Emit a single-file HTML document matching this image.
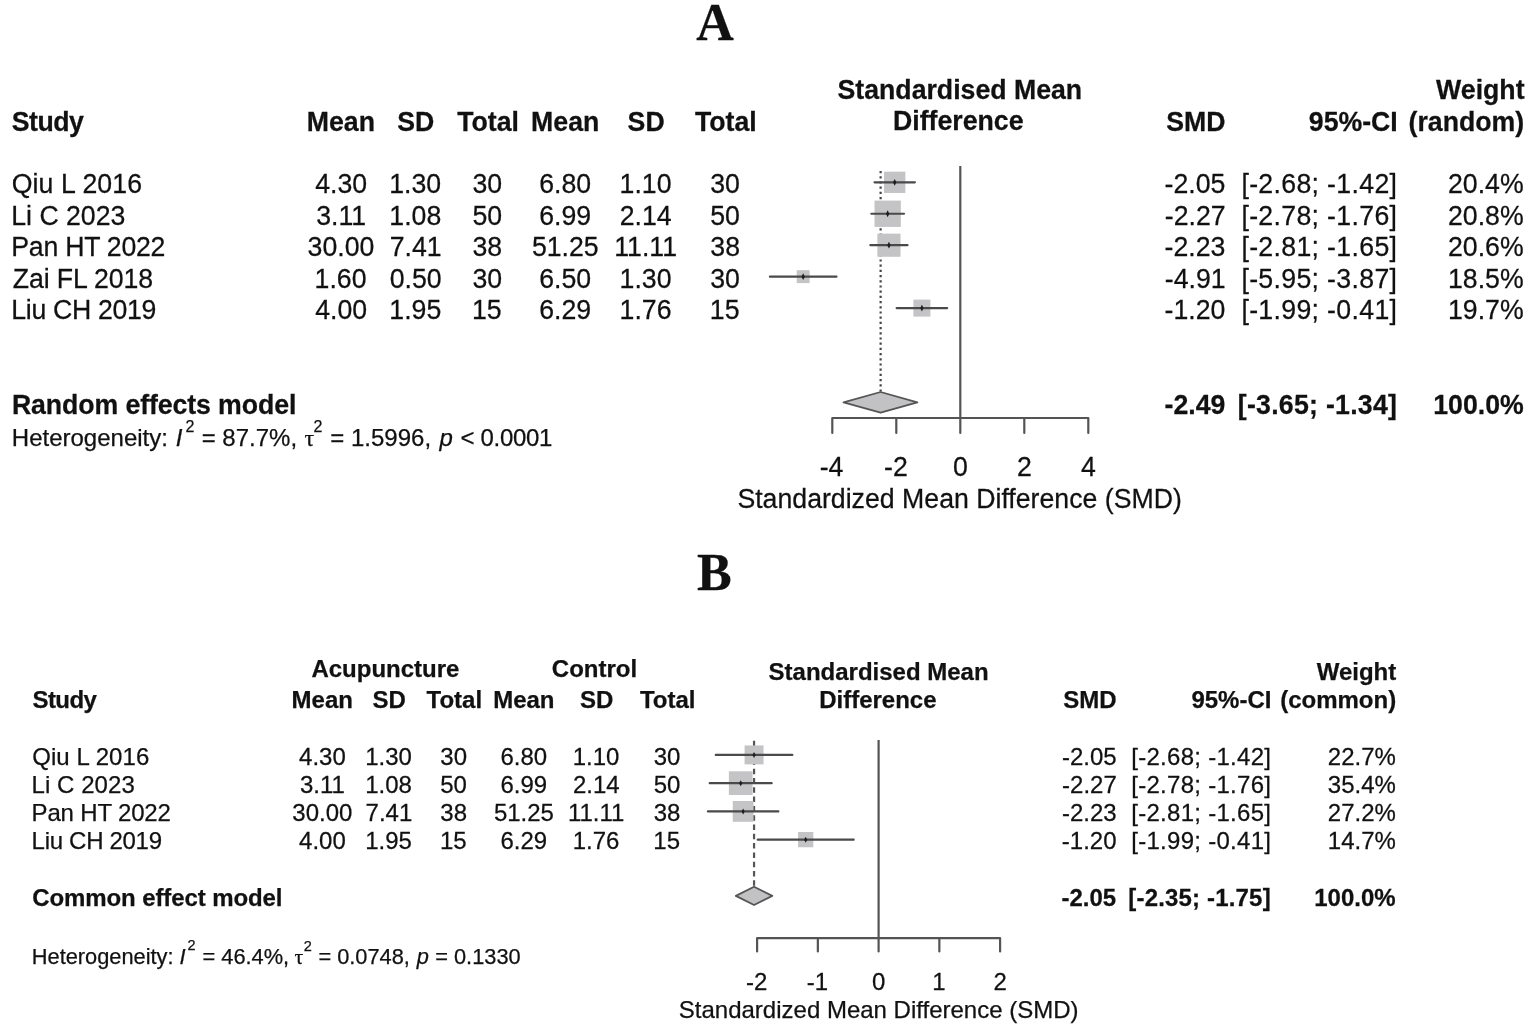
<!DOCTYPE html>
<html lang="en"><head><meta charset="utf-8"><title>Forest plots: acupuncture vs control (standardised mean difference)</title>
<style>
html,body{margin:0;padding:0;background:#fff;}
body{width:1535px;height:1034px;overflow:hidden;}
svg{display:block;}
svg{font-family:'Liberation Sans', Arial, Helvetica, sans-serif;}
text{fill:#111;stroke:#111;stroke-width:0.25px;}
</style></head><body>
<svg width="1535" height="1034" viewBox="0 0 1535 1034">
<rect width="1535" height="1034" fill="#fff"/>
<g id="plots">
<line x1="960.30" y1="166" x2="960.30" y2="418" stroke="#545454" stroke-width="2.2"/>
<line x1="880.62" y1="171" x2="880.62" y2="392" stroke="#444" stroke-width="2.2" stroke-dasharray="2.2 3"/>
<rect x="884.04" y="171.64" width="21.31" height="21.31" fill="#c4c4c6"/>
<line x1="874.54" y1="182.30" x2="914.86" y2="182.30" stroke="#4a4a4a" stroke-width="2.2" stroke-linecap="round"/>
<polygon points="894.70,178.90 896.40,182.30 894.70,185.70 893.00,182.30" fill="#1e1e1e"/>
<rect x="874.50" y="200.59" width="26.33" height="26.33" fill="#c4c4c6"/>
<line x1="871.34" y1="213.75" x2="903.98" y2="213.75" stroke="#4a4a4a" stroke-width="2.2" stroke-linecap="round"/>
<polygon points="887.66,210.35 889.36,213.75 887.66,217.15 885.96,213.75" fill="#1e1e1e"/>
<rect x="877.37" y="233.63" width="23.15" height="23.15" fill="#c4c4c6"/>
<line x1="870.38" y1="245.20" x2="907.50" y2="245.20" stroke="#4a4a4a" stroke-width="2.2" stroke-linecap="round"/>
<polygon points="888.94,241.80 890.64,245.20 888.94,248.60 887.24,245.20" fill="#1e1e1e"/>
<rect x="796.73" y="270.20" width="12.91" height="12.91" fill="#c4c4c6"/>
<line x1="769.90" y1="276.65" x2="836.46" y2="276.65" stroke="#4a4a4a" stroke-width="2.2" stroke-linecap="round"/>
<polygon points="803.18,273.25 804.88,276.65 803.18,280.05 801.48,276.65" fill="#1e1e1e"/>
<rect x="913.41" y="299.61" width="16.99" height="16.99" fill="#c4c4c6"/>
<line x1="896.62" y1="308.10" x2="947.18" y2="308.10" stroke="#4a4a4a" stroke-width="2.2" stroke-linecap="round"/>
<polygon points="921.90,304.70 923.60,308.10 921.90,311.50 920.20,308.10" fill="#1e1e1e"/>
<polygon points="843.50,402.3 880.62,392.0 917.42,402.3 880.62,412.6" fill="#c2c2c4" stroke="#555" stroke-width="1.8" stroke-linejoin="round"/>
<path d="M832.30 433 V418 H1088.30 V433 M896.30 418 V433 M960.30 418 V433 M1024.30 418 V433" fill="none" stroke="#545454" stroke-width="2.2" stroke-linecap="round" stroke-linejoin="round"/>
<line x1="878.60" y1="740" x2="878.60" y2="938.2" stroke="#545454" stroke-width="2.2"/>
<line x1="754.06" y1="740.8" x2="754.06" y2="887" stroke="#555" stroke-width="2.2" stroke-dasharray="5.5 3.8" stroke-dashoffset="0"/>
<rect x="744.58" y="745.42" width="18.96" height="18.96" fill="#c4c4c6"/>
<line x1="715.79" y1="754.90" x2="792.34" y2="754.90" stroke="#4a4a4a" stroke-width="2.2" stroke-linecap="round"/>
<polygon points="754.06,751.90 755.66,754.90 754.06,757.90 752.46,754.90" fill="#1e1e1e"/>
<rect x="728.86" y="771.31" width="23.68" height="23.68" fill="#c4c4c6"/>
<line x1="709.72" y1="783.15" x2="771.68" y2="783.15" stroke="#4a4a4a" stroke-width="2.2" stroke-linecap="round"/>
<polygon points="740.70,780.15 742.30,783.15 740.70,786.15 739.10,783.15" fill="#1e1e1e"/>
<rect x="732.75" y="801.02" width="20.76" height="20.76" fill="#c4c4c6"/>
<line x1="707.89" y1="811.40" x2="778.36" y2="811.40" stroke="#4a4a4a" stroke-width="2.2" stroke-linecap="round"/>
<polygon points="743.13,808.40 744.73,811.40 743.13,814.40 741.53,811.40" fill="#1e1e1e"/>
<rect x="798.07" y="832.02" width="15.26" height="15.26" fill="#c4c4c6"/>
<line x1="757.71" y1="839.65" x2="853.69" y2="839.65" stroke="#4a4a4a" stroke-width="2.2" stroke-linecap="round"/>
<polygon points="805.70,836.65 807.30,839.65 805.70,842.65 804.10,839.65" fill="#1e1e1e"/>
<polygon points="735.84,895.9 754.06,886.8 772.29,895.9 754.06,905.0" fill="#c2c2c4" stroke="#555" stroke-width="1.8" stroke-linejoin="round"/>
<path d="M757.10 951.5 V938.2 H1000.10 V951.5 M817.85 938.2 V951.5 M878.60 938.2 V951.5 M939.35 938.2 V951.5" fill="none" stroke="#545454" stroke-width="2.2" stroke-linecap="round" stroke-linejoin="round"/>
</g>
<g id="labels">
<text x="696.30" y="0" transform="translate(0 40.40) scale(1 1.02)" font-size="52" font-weight="bold" font-family="'Liberation Serif', 'Times New Roman', Times, serif">A</text>
<text x="837.50" y="0" transform="translate(0 98.80) scale(1 1.035)" font-size="26.7" font-weight="bold">Standardised Mean</text>
<text x="893.00" y="0" transform="translate(0 130.00) scale(1 1.035)" font-size="26.7" font-weight="bold">Difference</text>
<text x="1436.10" y="0" transform="translate(0 99.00) scale(1 1.035)" font-size="26.7" font-weight="bold">Weight</text>
<text x="11.70" y="0" transform="translate(0 130.80) scale(1 1.035)" font-size="26.7" font-weight="bold" textLength="72.27" lengthAdjust="spacing">Study</text>
<text x="306.80" y="0" transform="translate(0 130.80) scale(1 1.035)" font-size="26.7" font-weight="bold">Mean</text>
<text x="397.30" y="0" transform="translate(0 130.80) scale(1 1.035)" font-size="26.7" font-weight="bold">SD</text>
<text x="457.20" y="0" transform="translate(0 130.80) scale(1 1.035)" font-size="26.7" font-weight="bold">Total</text>
<text x="531.10" y="0" transform="translate(0 130.80) scale(1 1.035)" font-size="26.7" font-weight="bold">Mean</text>
<text x="627.60" y="0" transform="translate(0 130.80) scale(1 1.035)" font-size="26.7" font-weight="bold">SD</text>
<text x="695.00" y="0" transform="translate(0 130.80) scale(1 1.035)" font-size="26.7" font-weight="bold">Total</text>
<text x="1166.20" y="0" transform="translate(0 130.80) scale(1 1.035)" font-size="26.7" font-weight="bold">SMD</text>
<text x="1308.80" y="0" transform="translate(0 130.80) scale(1 1.035)" font-size="26.7" font-weight="bold">95%-CI</text>
<text x="1408.60" y="0" transform="translate(0 130.80) scale(1 1.035)" font-size="26.7" font-weight="bold">(random)</text>
<text x="11.70" y="0" transform="translate(0 193.20) scale(1 1.035)" font-size="26.7" textLength="130.35" lengthAdjust="spacing">Qiu L 2016</text>
<text x="315.25" y="0" transform="translate(0 193.20) scale(1 1.065)" font-size="26.7">4.30</text>
<text x="389.25" y="0" transform="translate(0 193.20) scale(1 1.065)" font-size="26.7">1.30</text>
<text x="472.45" y="0" transform="translate(0 193.20) scale(1 1.065)" font-size="26.7">30</text>
<text x="539.15" y="0" transform="translate(0 193.20) scale(1 1.065)" font-size="26.7">6.80</text>
<text x="619.55" y="0" transform="translate(0 193.20) scale(1 1.065)" font-size="26.7">1.10</text>
<text x="710.25" y="0" transform="translate(0 193.20) scale(1 1.065)" font-size="26.7">30</text>
<text x="1164.60" y="0" transform="translate(0 193.20) scale(1 1.065)" font-size="26.7">-2.05</text>
<text x="1241.40" y="0" transform="translate(0 193.20) scale(1 1.065)" font-size="26.7" textLength="155.59" lengthAdjust="spacing">[-2.68; -1.42]</text>
<text x="1448.00" y="0" transform="translate(0 193.20) scale(1 1.065)" font-size="26.7">20.4%</text>
<text x="11.30" y="0" transform="translate(0 224.65) scale(1 1.035)" font-size="26.7" textLength="114.00" lengthAdjust="spacing">Li C 2023</text>
<text x="316.20" y="0" transform="translate(0 224.65) scale(1 1.065)" font-size="26.7">3.11</text>
<text x="389.30" y="0" transform="translate(0 224.65) scale(1 1.065)" font-size="26.7">1.08</text>
<text x="472.40" y="0" transform="translate(0 224.65) scale(1 1.065)" font-size="26.7">50</text>
<text x="539.25" y="0" transform="translate(0 224.65) scale(1 1.065)" font-size="26.7">6.99</text>
<text x="619.75" y="0" transform="translate(0 224.65) scale(1 1.065)" font-size="26.7">2.14</text>
<text x="710.20" y="0" transform="translate(0 224.65) scale(1 1.065)" font-size="26.7">50</text>
<text x="1164.80" y="0" transform="translate(0 224.65) scale(1 1.065)" font-size="26.7">-2.27</text>
<text x="1241.40" y="0" transform="translate(0 224.65) scale(1 1.065)" font-size="26.7" textLength="155.59" lengthAdjust="spacing">[-2.78; -1.76]</text>
<text x="1448.00" y="0" transform="translate(0 224.65) scale(1 1.065)" font-size="26.7">20.8%</text>
<text x="11.30" y="0" transform="translate(0 256.10) scale(1 1.035)" font-size="26.7" textLength="154.15" lengthAdjust="spacing">Pan HT 2022</text>
<text x="307.60" y="0" transform="translate(0 256.10) scale(1 1.065)" font-size="26.7">30.00</text>
<text x="389.70" y="0" transform="translate(0 256.10) scale(1 1.065)" font-size="26.7">7.41</text>
<text x="472.50" y="0" transform="translate(0 256.10) scale(1 1.065)" font-size="26.7">38</text>
<text x="531.90" y="0" transform="translate(0 256.10) scale(1 1.065)" font-size="26.7">51.25</text>
<text x="614.25" y="0" transform="translate(0 256.10) scale(1 1.065)" font-size="26.7">11.11</text>
<text x="710.30" y="0" transform="translate(0 256.10) scale(1 1.065)" font-size="26.7">38</text>
<text x="1164.60" y="0" transform="translate(0 256.10) scale(1 1.065)" font-size="26.7">-2.23</text>
<text x="1241.40" y="0" transform="translate(0 256.10) scale(1 1.065)" font-size="26.7" textLength="155.59" lengthAdjust="spacing">[-2.81; -1.65]</text>
<text x="1448.00" y="0" transform="translate(0 256.10) scale(1 1.065)" font-size="26.7">20.6%</text>
<text x="12.70" y="0" transform="translate(0 287.55) scale(1 1.035)" font-size="26.7" textLength="140.50" lengthAdjust="spacing">Zai FL 2018</text>
<text x="314.55" y="0" transform="translate(0 287.55) scale(1 1.065)" font-size="26.7">1.60</text>
<text x="389.75" y="0" transform="translate(0 287.55) scale(1 1.065)" font-size="26.7">0.50</text>
<text x="472.45" y="0" transform="translate(0 287.55) scale(1 1.065)" font-size="26.7">30</text>
<text x="539.15" y="0" transform="translate(0 287.55) scale(1 1.065)" font-size="26.7">6.50</text>
<text x="619.55" y="0" transform="translate(0 287.55) scale(1 1.065)" font-size="26.7">1.30</text>
<text x="710.25" y="0" transform="translate(0 287.55) scale(1 1.065)" font-size="26.7">30</text>
<text x="1164.80" y="0" transform="translate(0 287.55) scale(1 1.065)" font-size="26.7">-4.91</text>
<text x="1241.40" y="0" transform="translate(0 287.55) scale(1 1.065)" font-size="26.7" textLength="155.59" lengthAdjust="spacing">[-5.95; -3.87]</text>
<text x="1448.00" y="0" transform="translate(0 287.55) scale(1 1.065)" font-size="26.7">18.5%</text>
<text x="11.30" y="0" transform="translate(0 319.00) scale(1 1.035)" font-size="26.7" textLength="145.03" lengthAdjust="spacing">Liu CH 2019</text>
<text x="315.25" y="0" transform="translate(0 319.00) scale(1 1.065)" font-size="26.7">4.00</text>
<text x="389.30" y="0" transform="translate(0 319.00) scale(1 1.065)" font-size="26.7">1.95</text>
<text x="472.00" y="0" transform="translate(0 319.00) scale(1 1.065)" font-size="26.7">15</text>
<text x="539.25" y="0" transform="translate(0 319.00) scale(1 1.065)" font-size="26.7">6.29</text>
<text x="619.60" y="0" transform="translate(0 319.00) scale(1 1.065)" font-size="26.7">1.76</text>
<text x="709.80" y="0" transform="translate(0 319.00) scale(1 1.065)" font-size="26.7">15</text>
<text x="1164.50" y="0" transform="translate(0 319.00) scale(1 1.065)" font-size="26.7">-1.20</text>
<text x="1241.40" y="0" transform="translate(0 319.00) scale(1 1.065)" font-size="26.7" textLength="155.59" lengthAdjust="spacing">[-1.99; -0.41]</text>
<text x="1448.00" y="0" transform="translate(0 319.00) scale(1 1.065)" font-size="26.7">19.7%</text>
<text x="11.90" y="0" transform="translate(0 413.60) scale(1 1.035)" font-size="26.7" font-weight="bold" textLength="284.44" lengthAdjust="spacing">Random effects model</text>
<text x="1164.60" y="0" transform="translate(0 413.60) scale(1 1.065)" font-size="26.7" font-weight="bold">-2.49</text>
<text x="1237.80" y="0" transform="translate(0 413.60) scale(1 1.065)" font-size="26.7" font-weight="bold" textLength="159.11" lengthAdjust="spacing">[-3.65; -1.34]</text>
<text x="1433.20" y="0" transform="translate(0 413.60) scale(1 1.065)" font-size="26.7" font-weight="bold">100.0%</text>
<text x="11.80" y="446.20" font-size="24.0">Heterogeneity:</text>
<text x="175.80" y="446.20" font-size="24.0" font-style="italic">I</text>
<text x="185.40" y="432.00" font-size="16">2</text>
<text x="201.70" y="446.20" font-size="24.0">= 87.7%,</text>
<text x="304.40" y="446.20" font-size="24.0" font-family="'Liberation Serif', 'Times New Roman', Times, serif">τ</text>
<text x="313.50" y="431.80" font-size="16">2</text>
<text x="330.30" y="446.20" font-size="24.0">= 1.5996,</text>
<text x="439.40" y="446.20" font-size="24.0" font-style="italic">p</text>
<text x="460.50" y="446.20" font-size="24.0" textLength="91.90" lengthAdjust="spacing">&lt; 0.0001</text>
<text x="819.70" y="0" transform="translate(0 476.30) scale(1 1.065)" font-size="26.7">-4</text>
<text x="884.00" y="0" transform="translate(0 476.30) scale(1 1.065)" font-size="26.7">-2</text>
<text x="952.90" y="0" transform="translate(0 476.30) scale(1 1.065)" font-size="26.7">0</text>
<text x="1016.90" y="0" transform="translate(0 476.30) scale(1 1.065)" font-size="26.7">2</text>
<text x="1080.95" y="0" transform="translate(0 476.30) scale(1 1.065)" font-size="26.7">4</text>
<text x="737.40" y="0" transform="translate(0 507.70) scale(1 1.035)" font-size="26.7">Standardized Mean Difference (SMD)</text>
<text x="697.10" y="0" transform="translate(0 590.40) scale(1 1.02)" font-size="52" font-weight="bold" font-family="'Liberation Serif', 'Times New Roman', Times, serif">B</text>
<text x="311.40" y="676.50" font-size="24.0" font-weight="bold">Acupuncture</text>
<text x="551.80" y="676.60" font-size="24.0" font-weight="bold">Control</text>
<text x="768.55" y="680.00" font-size="24.0" font-weight="bold">Standardised Mean</text>
<text x="1316.70" y="679.90" font-size="24.0" font-weight="bold">Weight</text>
<text x="32.60" y="708.00" font-size="24.0" font-weight="bold" textLength="64.17" lengthAdjust="spacing">Study</text>
<text x="291.55" y="708.00" font-size="24.0" font-weight="bold">Mean</text>
<text x="372.50" y="708.00" font-size="24.0" font-weight="bold">SD</text>
<text x="426.50" y="708.00" font-size="24.0" font-weight="bold">Total</text>
<text x="493.15" y="708.00" font-size="24.0" font-weight="bold">Mean</text>
<text x="580.00" y="708.00" font-size="24.0" font-weight="bold">SD</text>
<text x="639.90" y="708.00" font-size="24.0" font-weight="bold">Total</text>
<text x="819.15" y="707.80" font-size="24.0" font-weight="bold">Difference</text>
<text x="1063.30" y="708.00" font-size="24.0" font-weight="bold">SMD</text>
<text x="1191.40" y="708.00" font-size="24.0" font-weight="bold">95%-CI</text>
<text x="1280.20" y="708.00" font-size="24.0" font-weight="bold">(common)</text>
<text x="32.20" y="764.60" font-size="24.0" textLength="117.04" lengthAdjust="spacing">Qiu L 2016</text>
<text x="299.10" y="0" transform="translate(0 764.60) scale(1 1.03)" font-size="24.0">4.30</text>
<text x="365.20" y="0" transform="translate(0 764.60) scale(1 1.03)" font-size="24.0">1.30</text>
<text x="440.30" y="0" transform="translate(0 764.60) scale(1 1.03)" font-size="24.0">30</text>
<text x="500.40" y="0" transform="translate(0 764.60) scale(1 1.03)" font-size="24.0">6.80</text>
<text x="572.70" y="0" transform="translate(0 764.60) scale(1 1.03)" font-size="24.0">1.10</text>
<text x="653.70" y="0" transform="translate(0 764.60) scale(1 1.03)" font-size="24.0">30</text>
<text x="1061.90" y="0" transform="translate(0 764.60) scale(1 1.03)" font-size="24.0">-2.05</text>
<text x="1131.20" y="0" transform="translate(0 764.60) scale(1 1.03)" font-size="24.0" textLength="139.79" lengthAdjust="spacing">[-2.68; -1.42]</text>
<text x="1327.80" y="0" transform="translate(0 764.60) scale(1 1.03)" font-size="24.0">22.7%</text>
<text x="31.60" y="792.85" font-size="24.0" textLength="103.15" lengthAdjust="spacing">Li C 2023</text>
<text x="299.95" y="0" transform="translate(0 792.85) scale(1 1.03)" font-size="24.0">3.11</text>
<text x="365.25" y="0" transform="translate(0 792.85) scale(1 1.03)" font-size="24.0">1.08</text>
<text x="440.25" y="0" transform="translate(0 792.85) scale(1 1.03)" font-size="24.0">50</text>
<text x="500.50" y="0" transform="translate(0 792.85) scale(1 1.03)" font-size="24.0">6.99</text>
<text x="572.90" y="0" transform="translate(0 792.85) scale(1 1.03)" font-size="24.0">2.14</text>
<text x="653.65" y="0" transform="translate(0 792.85) scale(1 1.03)" font-size="24.0">50</text>
<text x="1062.10" y="0" transform="translate(0 792.85) scale(1 1.03)" font-size="24.0">-2.27</text>
<text x="1131.20" y="0" transform="translate(0 792.85) scale(1 1.03)" font-size="24.0" textLength="139.79" lengthAdjust="spacing">[-2.78; -1.76]</text>
<text x="1327.80" y="0" transform="translate(0 792.85) scale(1 1.03)" font-size="24.0">35.4%</text>
<text x="31.60" y="821.10" font-size="24.0" textLength="139.30" lengthAdjust="spacing">Pan HT 2022</text>
<text x="292.30" y="0" transform="translate(0 821.10) scale(1 1.03)" font-size="24.0">30.00</text>
<text x="365.60" y="0" transform="translate(0 821.10) scale(1 1.03)" font-size="24.0">7.41</text>
<text x="440.35" y="0" transform="translate(0 821.10) scale(1 1.03)" font-size="24.0">38</text>
<text x="493.90" y="0" transform="translate(0 821.10) scale(1 1.03)" font-size="24.0">51.25</text>
<text x="567.90" y="0" transform="translate(0 821.10) scale(1 1.03)" font-size="24.0">11.11</text>
<text x="653.75" y="0" transform="translate(0 821.10) scale(1 1.03)" font-size="24.0">38</text>
<text x="1061.90" y="0" transform="translate(0 821.10) scale(1 1.03)" font-size="24.0">-2.23</text>
<text x="1131.20" y="0" transform="translate(0 821.10) scale(1 1.03)" font-size="24.0" textLength="139.79" lengthAdjust="spacing">[-2.81; -1.65]</text>
<text x="1327.80" y="0" transform="translate(0 821.10) scale(1 1.03)" font-size="24.0">27.2%</text>
<text x="31.60" y="849.35" font-size="24.0" textLength="130.43" lengthAdjust="spacing">Liu CH 2019</text>
<text x="299.10" y="0" transform="translate(0 849.35) scale(1 1.03)" font-size="24.0">4.00</text>
<text x="365.25" y="0" transform="translate(0 849.35) scale(1 1.03)" font-size="24.0">1.95</text>
<text x="439.90" y="0" transform="translate(0 849.35) scale(1 1.03)" font-size="24.0">15</text>
<text x="500.50" y="0" transform="translate(0 849.35) scale(1 1.03)" font-size="24.0">6.29</text>
<text x="572.75" y="0" transform="translate(0 849.35) scale(1 1.03)" font-size="24.0">1.76</text>
<text x="653.30" y="0" transform="translate(0 849.35) scale(1 1.03)" font-size="24.0">15</text>
<text x="1061.80" y="0" transform="translate(0 849.35) scale(1 1.03)" font-size="24.0">-1.20</text>
<text x="1131.20" y="0" transform="translate(0 849.35) scale(1 1.03)" font-size="24.0" textLength="139.79" lengthAdjust="spacing">[-1.99; -0.41]</text>
<text x="1327.80" y="0" transform="translate(0 849.35) scale(1 1.03)" font-size="24.0">14.7%</text>
<text x="32.30" y="905.50" font-size="24.0" font-weight="bold" textLength="250.14" lengthAdjust="spacing">Common effect model</text>
<text x="1061.50" y="0" transform="translate(0 905.50) scale(1 1.03)" font-size="24.0" font-weight="bold">-2.05</text>
<text x="1128.30" y="0" transform="translate(0 905.50) scale(1 1.03)" font-size="24.0" font-weight="bold" textLength="142.36" lengthAdjust="spacing">[-2.35; -1.75]</text>
<text x="1314.20" y="0" transform="translate(0 905.50) scale(1 1.03)" font-size="24.0" font-weight="bold">100.0%</text>
<text x="31.80" y="963.50" font-size="21.8">Heterogeneity:</text>
<text x="179.60" y="963.50" font-size="21.8" font-style="italic">I</text>
<text x="187.60" y="950.40" font-size="14.5">2</text>
<text x="202.50" y="963.50" font-size="21.8">= 46.4%,</text>
<text x="294.50" y="963.50" font-size="21.8" font-family="'Liberation Serif', 'Times New Roman', Times, serif">τ</text>
<text x="303.70" y="950.80" font-size="14.5">2</text>
<text x="318.40" y="963.50" font-size="21.8">= 0.0748,</text>
<text x="416.80" y="963.50" font-size="21.8" font-style="italic">p</text>
<text x="435.20" y="963.50" font-size="21.8">= 0.1330</text>
<text x="746.00" y="0" transform="translate(0 990.40) scale(1 1.03)" font-size="24.0">-2</text>
<text x="806.70" y="0" transform="translate(0 990.40) scale(1 1.03)" font-size="24.0">-1</text>
<text x="871.95" y="0" transform="translate(0 990.40) scale(1 1.03)" font-size="24.0">0</text>
<text x="932.35" y="0" transform="translate(0 990.40) scale(1 1.03)" font-size="24.0">1</text>
<text x="993.45" y="0" transform="translate(0 990.40) scale(1 1.03)" font-size="24.0">2</text>
<text x="678.80" y="1018.20" font-size="24.0">Standardized Mean Difference (SMD)</text>
</g>
</svg>
</body></html>
